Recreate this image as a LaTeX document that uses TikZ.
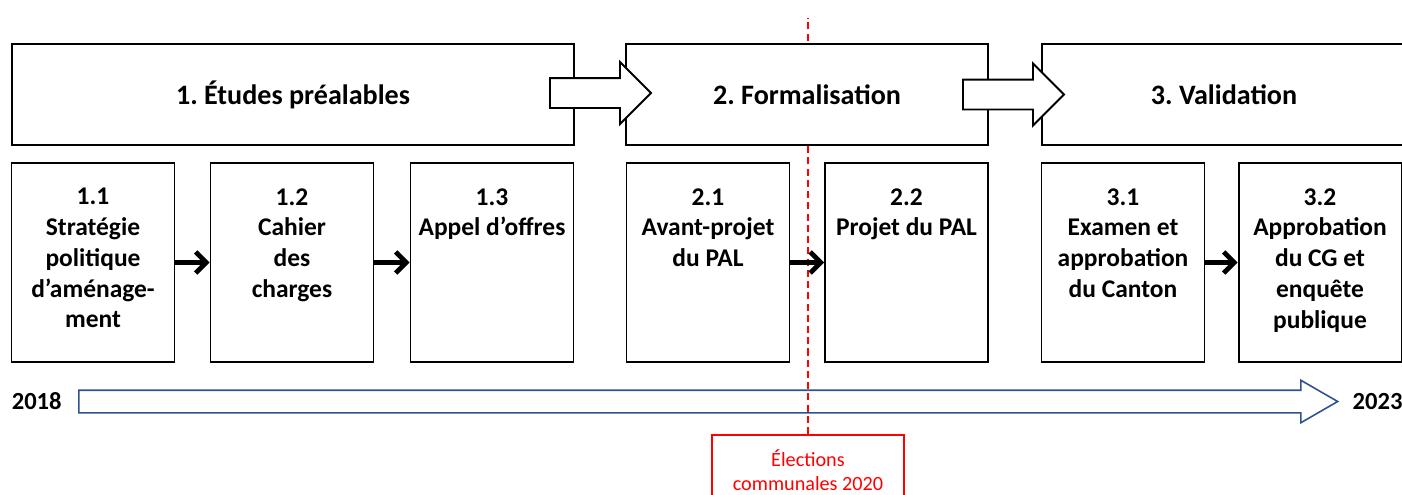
\documentclass[tikz,border=0pt]{standalone}
\usepackage{fontspec}
\setmainfont{Carlito}
\usetikzlibrary{arrows.meta,shapes.arrows,positioning}

\definecolor{timeblue}{HTML}{2F528F}

\begin{document}
\begin{tikzpicture}[x=0.02cm, y=-0.02cm,
    phase/.style={draw, fill=white, line width=1.1pt, minimum height=2.02cm,
        font=\bfseries\fontsize{16}{19}\selectfont},
    phasearrow/.style={single arrow, draw, fill=white, line width=1.1pt,
        minimum height=2.02cm, inner xsep=0pt, inner ysep=0.28cm,
        single arrow head extend=0.32cm, anchor=west},
    stepbox/.style={draw, line width=1.1pt, minimum width=3.26cm, minimum height=3.98cm},
    steptext/.style={align=center, inner sep=0pt,
        font=\bfseries\fontsize{14.5}{17.5}\selectfont},
    nextarrow/.style={line width=2.7pt, -{Straight Barb[length=6pt, width=12pt]}},
    timeline/.style={single arrow, draw=timeblue, line width=0.9pt,
        minimum height=25.18cm, inner xsep=0pt, inner ysep=0.21cm,
        single arrow head extend=0.2cm, single arrow tip angle=60, anchor=west},
    year/.style={inner sep=0pt, font=\bfseries\fontsize{14}{16}\selectfont},
    elect/.style={draw=red, text=red, fill=white, line width=0.9pt, align=center,
        minimum width=3.84cm, minimum height=1.4cm,
        font=\fontsize{11.5}{13.7}\selectfont},
    electline/.style={red, line width=0.8pt, dash pattern=on 4pt off 2.4pt}]

    \useasboundingbox (0,0) rectangle (1402,494);
    \clip (0,0) rectangle (1402,494);



    \node[elect] (el) at (808,470) {Élections\\communales 2020};

    \coordinate (ltop) at (808,18);

    \draw[electline] (el.north) -- (ltop);



    \node[phase, minimum width=11.24cm] (p1) at (293,94.5) {1.\ Études préalables};

    \node[phase, minimum width=7.24cm] (p2) at (807,94.5) {2.\ Formalisation};

    \node[phase, minimum width=7.28cm] (p3) at (1224,94.5) {3.\ Validation};

    \node[phasearrow] (a12) at (549,93) {};

    \node[phasearrow] (a23) at (962,94.5) {};



    \node[stepbox] (s11) at (93,262.5) {};

    \node[stepbox] (s12) at (292,262.5) {};

    \node[stepbox] (s13) at (492,262.5) {};

    \node[stepbox] (s21) at (708,262.5) {};

    \node[stepbox] (s22) at (906.5,262.5) {};

    \node[stepbox] (s31) at (1123,262.5) {};

    \node[stepbox] (s32) at (1320,262.5) {};



    \node[steptext, below=0.52cm of s11.north] (t11) {1.1\\Stratégie\\politique\\d’aménage-\\ment};

    \node[steptext, below=0.52cm of s12.north] (t12) {1.2\\Cahier\\des\\charges};

    \node[steptext, below=0.52cm of s13.north] (t13) {1.3\\Appel d’offres};

    \node[steptext, below=0.52cm of s21.north] (t21) {2.1\\Avant-projet\\du PAL};

    \node[steptext, below=0.52cm of s22.north] (t22) {2.2\\Projet du PAL};

    \node[steptext, below=0.52cm of s31.north] (t31) {3.1\\Examen et\\approbation\\du Canton};

    \node[steptext, below=0.52cm of s32.north] (t32) {3.2\\Approbation\\du CG et\\enquête\\publique};



    \draw[nextarrow] (s11) -- (s12);

    \draw[nextarrow] (s12) -- (s13);

    \draw[nextarrow] (s21) -- (s22);

    \draw[nextarrow] (s31) -- (s32);



    \node[timeline] (tl) at (78,401.5) {};

    \node[year, left=0.32cm of tl.west] (y18) {2018};

    \node[year, right=0.26cm of tl.east] (y23) {2023};

\end{tikzpicture}
\end{document}
